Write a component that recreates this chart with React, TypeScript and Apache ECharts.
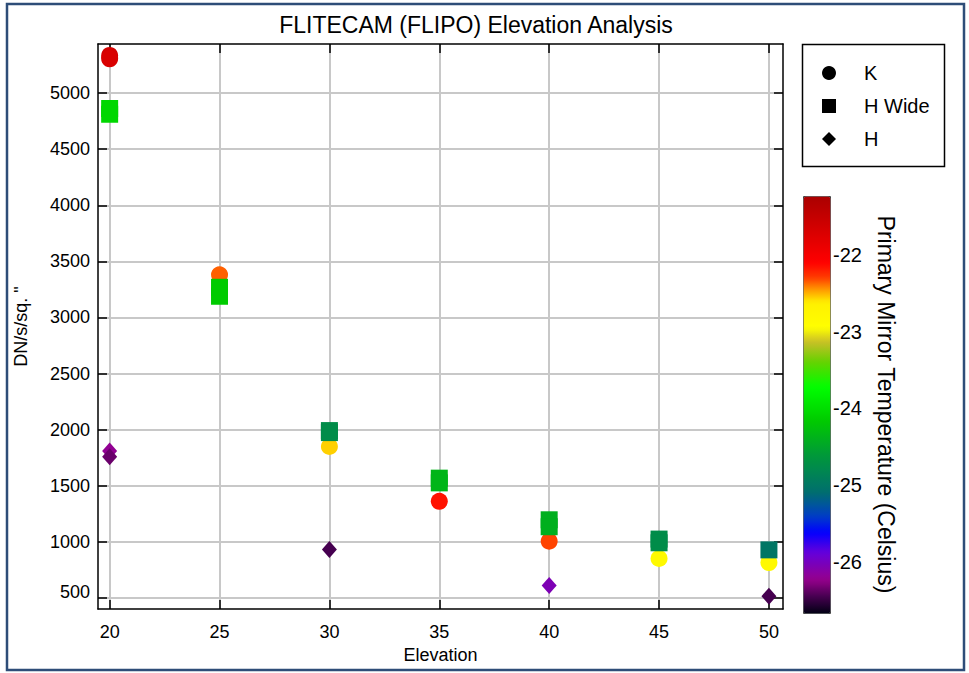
import React, { useEffect, useRef } from "react";
import * as echarts from "echarts";

// ---- data ----
const kElev = [20, 20, 25, 30, 35, 40, 45, 50];
const kCounts = [5335, 5305, 3380, 1850, 1362, 1006, 852, 816];
const kTemps = [-21.65, -21.7, -22.35, -22.55, -22.15, -22.3, -22.8, -22.8];

const hwElev = [20, 20, 25, 25, 30, 30, 35, 35, 40, 40, 45, 45, 50];
const hwCounts = [4862, 4811, 3269, 3189, 1992, 1974, 1568, 1526, 1197, 1135, 1025, 992, 929];
const hwTemps = [-24.05, -24.05, -24.15, -24.15, -24.75, -24.75, -24.35, -24.35, -24.4, -24.4, -24.75, -24.75, -25.0];

const hElev = [20, 20, 30, 40, 50];
const hCounts = [1811, 1758, 932, 611, 516];
const hTemps = [-26.2, -26.35, -26.45, -26.05, -26.45];

const xTicks = [20, 25, 30, 35, 40, 45, 50];
const yTicks = [500, 1000, 1500, 2000, 2500, 3000, 3500, 4000, 4500, 5000];
const tempTicks = [-26, -25, -24, -23, -22];

const xMin = 19.47;
const xMax = 50.64;
const yMin = 402;
const yMax = 5437;
const tempMin = -26.67;
const tempMax = -21.23;

// colour map of the temperature scale: [value, colour]
const colorStops: [number, string][] = [
  [-26.67, "#000014"],
  [-26.45, "#460050"],
  [-26.23, "#96008c"],
  [-25.87, "#6400dc"],
  [-25.61, "#0000ff"],
  [-25.41, "#003cc8"],
  [-25.09, "#006e6e"],
  [-24.63, "#00963c"],
  [-24.17, "#00c800"],
  [-23.72, "#00ff00"],
  [-23.39, "#64d200"],
  [-23.13, "#c8be28"],
  [-22.94, "#ffff00"],
  [-22.61, "#fff000"],
  [-22.44, "#ff9600"],
  [-22.29, "#ff3c00"],
  [-22.09, "#ff0000"],
  [-21.83, "#e60000"],
  [-21.23, "#aa0000"],
];

const FONT = "'Liberation Sans', Arial, Helvetica, sans-serif";

function hexToRgb(h: string): number[] {
  return [parseInt(h.slice(1, 3), 16), parseInt(h.slice(3, 5), 16), parseInt(h.slice(5, 7), 16)];
}

function sampleColors(n: number): string[] {
  const out: string[] = [];
  for (let i = 0; i < n; i++) {
    const v = tempMin + ((tempMax - tempMin) * i) / (n - 1);
    let j = 0;
    while (j < colorStops.length - 2 && v > colorStops[j + 1][0]) j++;
    const [v0, c0] = colorStops[j];
    const [v1, c1] = colorStops[j + 1];
    const t = Math.max(0, Math.min(1, (v - v0) / (v1 - v0)));
    const a = hexToRgb(c0);
    const b = hexToRgb(c1);
    const r = a.map((x, k) => Math.round(x + (b[k] - x) * t));
    out.push(`rgb(${r[0]},${r[1]},${r[2]})`);
  }
  return out;
}

function zip3(a: number[], b: number[], c: number[]) {
  return a.map((x, i) => [x, b[i], c[i]]);
}

export default function App() {
  const ref = useRef<HTMLDivElement>(null);

  useEffect(() => {
    if (!ref.current) return;
    const chart = echarts.init(ref.current, undefined, { renderer: "svg" });

    const axisBlack = { lineStyle: { color: "#000", width: 1.5 } };

    const option: any = {
      animation: false,
      backgroundColor: "#fff",
      textStyle: { fontFamily: FONT },
      title: {
        text: "FLITECAM (FLIPO) Elevation Analysis",
        left: 471,
        top: 8,
        textAlign: "center",
        textStyle: { fontFamily: FONT, fontSize: 23, fontWeight: "normal", color: "#000" },
      },
      grid: [
        { left: 98, top: 44, right: 186, bottom: 64, containLabel: false },
        { left: 803, top: 196, width: 27, height: 417, containLabel: false },
      ],
      xAxis: [
        {
          gridIndex: 0,
          type: "value",
          min: xMin,
          max: xMax,
          position: "bottom",
          name: "Elevation",
          nameLocation: "middle",
          nameGap: 36,
          nameTextStyle: { fontFamily: FONT, fontSize: 18, color: "#000" },
          axisLine: { show: true, onZero: false, ...axisBlack },
          axisTick: { show: true, inside: true, length: 9, customValues: xTicks, lineStyle: { color: "#000", width: 1.5 } },
          axisLabel: { customValues: xTicks, fontFamily: FONT, fontSize: 18, color: "#000", margin: 14 },
          splitLine: { show: true, lineStyle: { color: "#c8c8c8", width: 2 } },
        },
        {
          gridIndex: 0,
          type: "value",
          min: xMin,
          max: xMax,
          position: "top",
          axisLine: { show: true, onZero: false, ...axisBlack },
          axisTick: { show: true, inside: true, length: 9, customValues: xTicks, lineStyle: { color: "#000", width: 1.5 } },
          axisLabel: { show: false },
          splitLine: { show: false },
        },
        {
          gridIndex: 1,
          type: "value",
          min: 0,
          max: 1,
          show: false,
        },
      ],
      yAxis: [
        {
          gridIndex: 0,
          type: "value",
          min: yMin,
          max: yMax,
          position: "left",
          name: 'DN/s/sq. "',
          nameLocation: "middle",
          nameRotate: 90,
          nameGap: 68,
          nameTextStyle: { fontFamily: FONT, fontSize: 18, color: "#000" },
          axisLine: { show: true, onZero: false, ...axisBlack },
          axisTick: { show: true, inside: true, length: 9, customValues: yTicks, lineStyle: { color: "#000", width: 1.5 } },
          axisLabel: {
            customValues: yTicks,
            fontFamily: FONT,
            fontSize: 18,
            color: "#000",
            margin: 8,
            formatter: (v: number) => (v === 500 ? "{s|500}" : String(v)),
            rich: { s: { fontFamily: FONT, fontSize: 18, color: "#000", padding: [0, 0, 12, 0] } },
          },
          splitLine: { show: true, lineStyle: { color: "#c8c8c8", width: 2 } },
        },
        {
          gridIndex: 0,
          type: "value",
          min: yMin,
          max: yMax,
          position: "right",
          axisLine: { show: true, onZero: false, ...axisBlack },
          axisTick: { show: true, inside: true, length: 9, customValues: yTicks, lineStyle: { color: "#000", width: 1.5 } },
          axisLabel: { show: false },
          splitLine: { show: false },
        },
        {
          gridIndex: 1,
          type: "value",
          min: tempMin,
          max: tempMax,
          position: "right",
          name: "Primary Mirror Temperature (Celsius)",
          nameLocation: "middle",
          nameRotate: -90,
          nameGap: 44,
          nameTextStyle: { fontFamily: FONT, fontSize: 23, color: "#000" },
          axisLine: { show: false },
          axisTick: { show: false, customValues: tempTicks },
          axisLabel: {
            customValues: tempTicks,
            fontFamily: FONT,
            fontSize: 20,
            color: "#000",
            margin: 3,
            formatter: (v: number) => String(Math.round(v)),
          },
          splitLine: { show: false },
        },
      ],
      visualMap: {
        type: "continuous",
        show: true,
        dimension: 2,
        seriesIndex: [0, 1, 2],
        min: tempMin,
        max: tempMax,
        orient: "vertical",
        left: 803,
        top: 196,
        itemWidth: 27,
        itemHeight: 417,
        padding: 0,
        calculable: false,
        hoverLink: false,
        text: null,
        showLabel: false,
        borderColor: "#444",
        borderWidth: 1,
        inRange: { color: sampleColors(120) },
      },
      legend: {
        orient: "vertical",
        left: 822,
        top: 57,
        padding: 0,
        itemWidth: 14,
        itemHeight: 14,
        itemGap: 1,
        itemStyle: { color: "#000", borderWidth: 0 },
        textStyle: { fontFamily: FONT, fontSize: 20, color: "#000", lineHeight: 20, padding: [12, 0, 0, 23] },
        data: [
          { name: "K", icon: "circle" },
          { name: "H Wide", icon: "rect" },
          { name: "H", icon: "diamond" },
        ],
      },
      graphic: [
        {
          type: "rect",
          shape: { x: 7, y: 4, width: 957, height: 666 },
          style: { fill: "none", stroke: "#2e4d78", lineWidth: 2.5 },
          silent: true,
        },
        {
          type: "rect",
          shape: { x: 802.5, y: 44.5, width: 142, height: 122 },
          style: { fill: "none", stroke: "#000", lineWidth: 1.5 },
          silent: true,
        },
      ],
      series: [
        {
          name: "K",
          type: "scatter",
          xAxisIndex: 0,
          yAxisIndex: 0,
          symbol: "circle",
          symbolSize: 17,
          itemStyle: { opacity: 1 },
          data: zip3(kElev, kCounts, kTemps),
        },
        {
          name: "H Wide",
          type: "scatter",
          xAxisIndex: 0,
          yAxisIndex: 0,
          symbol: "rect",
          symbolSize: 17,
          itemStyle: { opacity: 1 },
          data: zip3(hwElev, hwCounts, hwTemps),
        },
        {
          name: "H",
          type: "scatter",
          xAxisIndex: 0,
          yAxisIndex: 0,
          symbol: "diamond",
          symbolSize: [15, 17],
          itemStyle: { opacity: 1 },
          data: zip3(hElev, hCounts, hTemps),
        },
      ],
    };

    chart.setOption(option);
    return () => chart.dispose();
  }, []);

  return (
    <div
      ref={ref}
      style={{ position: "absolute", left: 0, top: 0, width: 969, height: 673, background: "#fff" }}
    />
  );
}
